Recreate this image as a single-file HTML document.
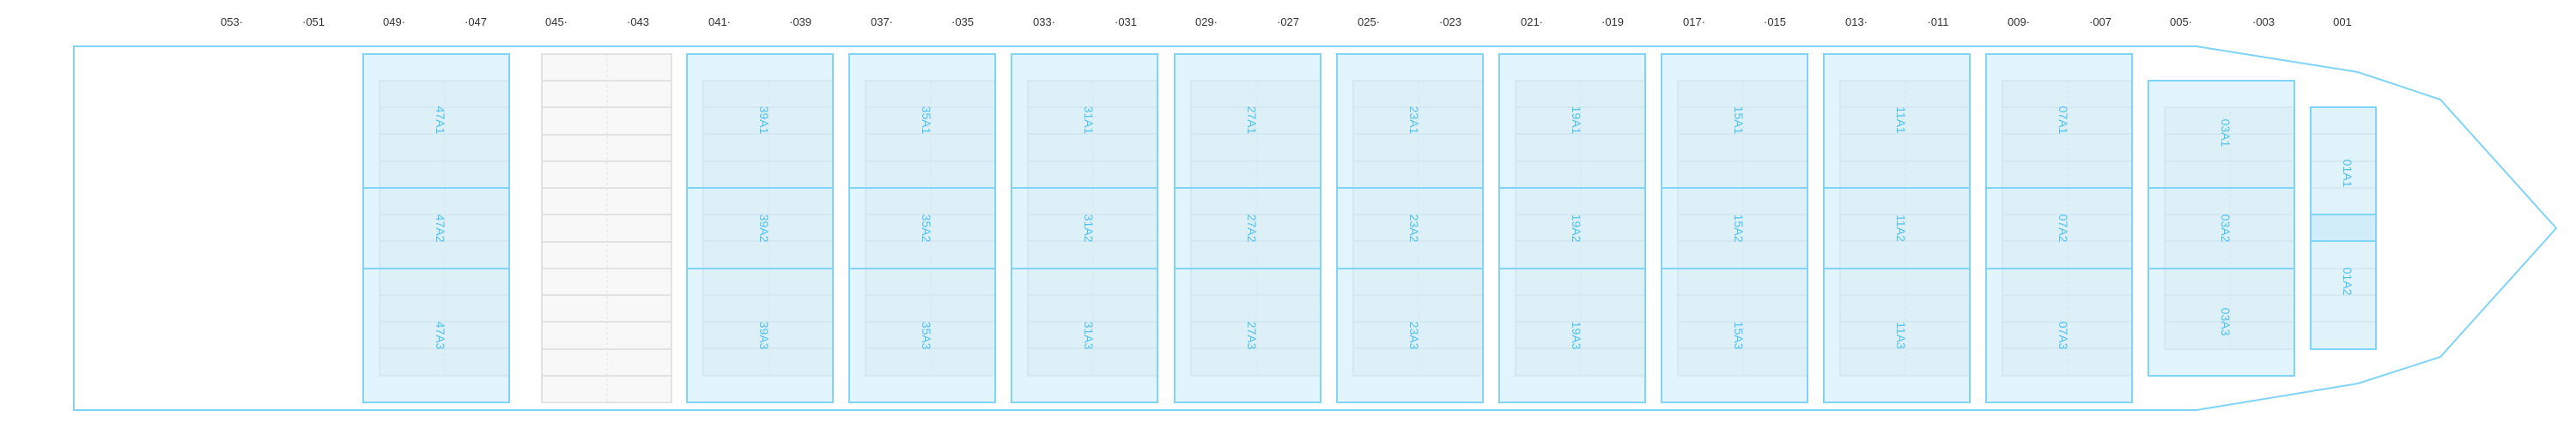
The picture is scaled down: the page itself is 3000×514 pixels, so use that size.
<!DOCTYPE html>
<html><head><meta charset="utf-8"><style>
html,body{margin:0;padding:0;background:#fff;}
svg{display:block;}
.t{font-family:"Liberation Sans",sans-serif;font-size:13px;fill:#333;text-anchor:middle;}
.l{font-family:"Liberation Sans",sans-serif;font-size:14px;fill:#4cc2f2;text-anchor:middle;dominant-baseline:central;}
</style></head><body>
<svg width="3000" height="514" viewBox="0 0 3000 514" xmlns="http://www.w3.org/2000/svg">
<defs>
<g id="bay">
<rect x="0" y="63" width="170" height="406" fill="#e2f4fd"/>
<rect x="19" y="94" width="151" height="344" fill="#ddf0f8" stroke="#d2e5ef" stroke-width="1.5"/>
<g stroke="#d2e5ef" stroke-width="1.5">
<line x1="19" y1="125" x2="170" y2="125"/><line x1="19" y1="156" x2="170" y2="156"/><line x1="19" y1="188" x2="170" y2="188"/>
<line x1="19" y1="250" x2="170" y2="250"/><line x1="19" y1="281" x2="170" y2="281"/>
<line x1="19" y1="344" x2="170" y2="344"/><line x1="19" y1="375" x2="170" y2="375"/><line x1="19" y1="406" x2="170" y2="406"/>
</g>
<line x1="95" y1="94" x2="95" y2="438" stroke="#d6e3ea" stroke-dasharray="3,3"/>
<g stroke="#80d4f8" stroke-width="2"><line x1="0" y1="219" x2="170" y2="219"/><line x1="0" y1="313" x2="170" y2="313"/></g>
<rect x="0" y="63" width="170" height="406" fill="none" stroke="#80d4f8" stroke-width="2"/>
</g>
</defs>
<!-- hull -->
<path d="M86 54 L2558 54 L2746 84 L2842 116 L2977 266 L2842 416 L2746 447 L2558 478 L86 478 Z" fill="none" stroke="#80d4f8" stroke-width="2"/>
<!-- top labels -->
<g class="t">
<text x="270" y="30">053·</text><text x="365" y="30">·051</text><text x="459" y="30">049·</text><text x="554" y="30">·047</text>
<text x="648" y="30">045·</text><text x="743" y="30">·043</text><text x="838" y="30">041·</text><text x="932" y="30">·039</text>
<text x="1027" y="30">037·</text><text x="1121" y="30">·035</text><text x="1216" y="30">033·</text><text x="1311" y="30">·031</text>
<text x="1405" y="30">029·</text><text x="1500" y="30">·027</text><text x="1594" y="30">025·</text><text x="1689" y="30">·023</text>
<text x="1784" y="30">021·</text><text x="1878" y="30">·019</text><text x="1973" y="30">017·</text><text x="2067" y="30">·015</text>
<text x="2162" y="30">013·</text><text x="2257" y="30">·011</text><text x="2351" y="30">009·</text><text x="2446" y="30">·007</text>
<text x="2540" y="30">005·</text><text x="2636" y="30">·003</text><text x="2728" y="30">001</text>
</g>
<!-- gray bay 45 -->
<rect x="631" y="63" width="151" height="406" fill="#f8f8f8" stroke="#e2e2e2" stroke-width="2"/>
<g stroke="#e2e2e2" stroke-width="2">
<line x1="631" y1="94" x2="782" y2="94"/><line x1="631" y1="125" x2="782" y2="125"/><line x1="631" y1="157" x2="782" y2="157"/>
<line x1="631" y1="188" x2="782" y2="188"/><line x1="631" y1="219" x2="782" y2="219"/><line x1="631" y1="250" x2="782" y2="250"/>
<line x1="631" y1="282" x2="782" y2="282"/><line x1="631" y1="313" x2="782" y2="313"/><line x1="631" y1="344" x2="782" y2="344"/>
<line x1="631" y1="375" x2="782" y2="375"/><line x1="631" y1="407" x2="782" y2="407"/><line x1="631" y1="438" x2="782" y2="438"/>
</g>
<line x1="707" y1="63" x2="707" y2="469" stroke="#e2e2e2" stroke-dasharray="3,3"/>
<!-- standard bays -->
<use href="#bay" x="423"/><use href="#bay" x="800"/><use href="#bay" x="989"/><use href="#bay" x="1178"/>
<use href="#bay" x="1368"/><use href="#bay" x="1557"/><use href="#bay" x="1746"/><use href="#bay" x="1935"/>
<use href="#bay" x="2124"/><use href="#bay" x="2313"/>
<!-- bay 03 -->
<rect x="2502" y="94" width="170" height="344" fill="#e2f4fd"/>
<rect x="2521" y="125" width="151" height="282" fill="#ddf0f8" stroke="#d2e5ef" stroke-width="1.5"/>
<g stroke="#d2e5ef" stroke-width="1.5">
<line x1="2521" y1="156" x2="2672" y2="156"/><line x1="2521" y1="188" x2="2672" y2="188"/>
<line x1="2521" y1="250" x2="2672" y2="250"/><line x1="2521" y1="281" x2="2672" y2="281"/>
<line x1="2521" y1="344" x2="2672" y2="344"/><line x1="2521" y1="375" x2="2672" y2="375"/>
</g>
<line x1="2597" y1="125" x2="2597" y2="407" stroke="#d6e3ea" stroke-dasharray="3,3"/>
<g stroke="#80d4f8" stroke-width="2"><line x1="2502" y1="219" x2="2672" y2="219"/><line x1="2502" y1="313" x2="2672" y2="313"/></g>
<rect x="2502" y="94" width="170" height="344" fill="none" stroke="#80d4f8" stroke-width="2"/>
<!-- bay 01 -->
<rect x="2691" y="125" width="76" height="282" fill="#e0f2fa"/>
<rect x="2691" y="250" width="76" height="31" fill="#d2edfa"/>
<g stroke="#d2e5ef" stroke-width="1.5">
<line x1="2691" y1="156" x2="2767" y2="156"/><line x1="2691" y1="188" x2="2767" y2="188"/><line x1="2691" y1="219" x2="2767" y2="219"/>
<line x1="2691" y1="313" x2="2767" y2="313"/><line x1="2691" y1="344" x2="2767" y2="344"/><line x1="2691" y1="375" x2="2767" y2="375"/>
</g>
<g stroke="#80d4f8" stroke-width="2"><line x1="2691" y1="250" x2="2767" y2="250"/><line x1="2691" y1="281" x2="2767" y2="281"/></g>
<rect x="2691" y="125" width="76" height="282" fill="none" stroke="#80d4f8" stroke-width="2"/>
<!-- labels -->
<g class="l">
<text transform="translate(513,140) rotate(90)">47A1</text><text transform="translate(513,266) rotate(90)">47A2</text><text transform="translate(513,391) rotate(90)">47A3</text>
<text transform="translate(890,140) rotate(90)">39A1</text><text transform="translate(890,266) rotate(90)">39A2</text><text transform="translate(890,391) rotate(90)">39A3</text>
<text transform="translate(1079,140) rotate(90)">35A1</text><text transform="translate(1079,266) rotate(90)">35A2</text><text transform="translate(1079,391) rotate(90)">35A3</text>
<text transform="translate(1268,140) rotate(90)">31A1</text><text transform="translate(1268,266) rotate(90)">31A2</text><text transform="translate(1268,391) rotate(90)">31A3</text>
<text transform="translate(1458,140) rotate(90)">27A1</text><text transform="translate(1458,266) rotate(90)">27A2</text><text transform="translate(1458,391) rotate(90)">27A3</text>
<text transform="translate(1647,140) rotate(90)">23A1</text><text transform="translate(1647,266) rotate(90)">23A2</text><text transform="translate(1647,391) rotate(90)">23A3</text>
<text transform="translate(1836,140) rotate(90)">19A1</text><text transform="translate(1836,266) rotate(90)">19A2</text><text transform="translate(1836,391) rotate(90)">19A3</text>
<text transform="translate(2025,140) rotate(90)">15A1</text><text transform="translate(2025,266) rotate(90)">15A2</text><text transform="translate(2025,391) rotate(90)">15A3</text>
<text transform="translate(2214,140) rotate(90)">11A1</text><text transform="translate(2214,266) rotate(90)">11A2</text><text transform="translate(2214,391) rotate(90)">11A3</text>
<text transform="translate(2403,140) rotate(90)">07A1</text><text transform="translate(2403,266) rotate(90)">07A2</text><text transform="translate(2403,391) rotate(90)">07A3</text>
<text transform="translate(2592,155) rotate(90)">03A1</text><text transform="translate(2592,266) rotate(90)">03A2</text><text transform="translate(2592,375) rotate(90)">03A3</text>
<text transform="translate(2734,202) rotate(90)">01A1</text><text transform="translate(2734,328) rotate(90)">01A2</text>
</g>
</svg>
</body></html>
